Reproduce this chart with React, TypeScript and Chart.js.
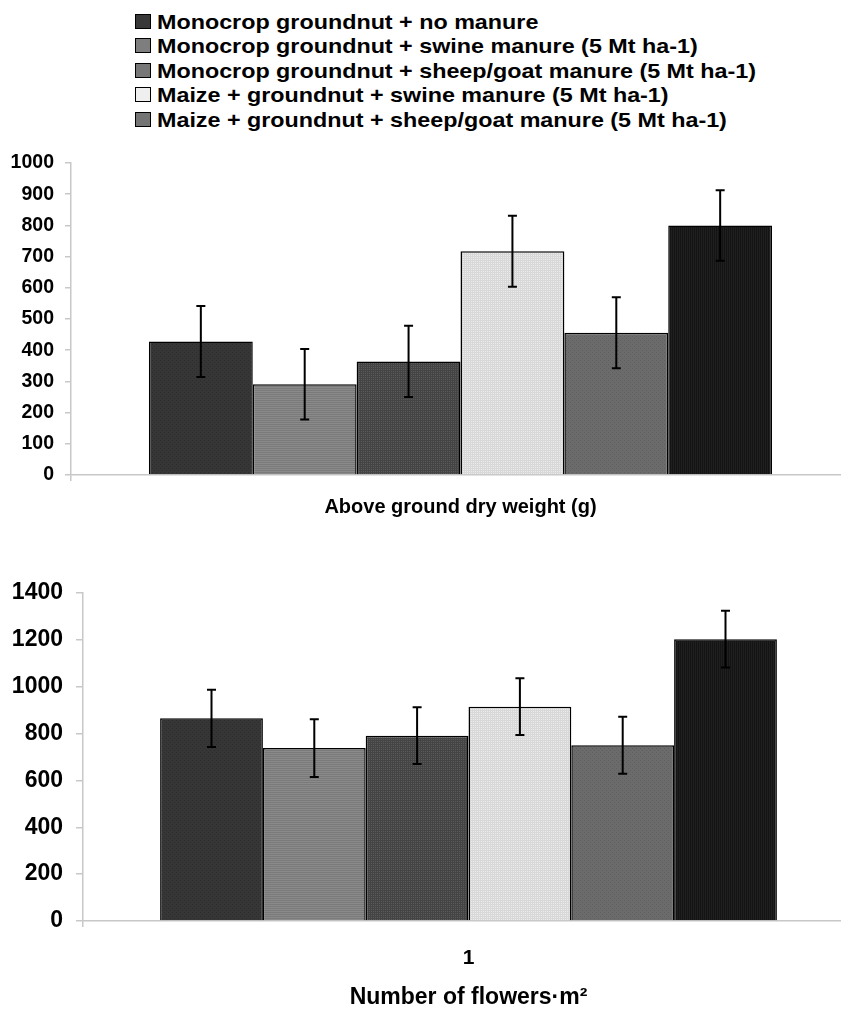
import React, { useEffect, useRef } from "react";
import { Chart, registerables } from "chart.js";

Chart.register(...registerables);

const seriesLabels = [
  "Monocrop groundnut + no manure",
  "Monocrop groundnut + swine manure (5 Mt ha-1)",
  "Monocrop groundnut + sheep/goat manure (5 Mt ha-1)",
  "Maize + groundnut + swine manure (5 Mt ha-1)",
  "Maize + groundnut + sheep/goat manure (5 Mt ha-1)",
  "Series 6",
];
const legendCount = 5;

const topCategories = [""];
const topTitle = "Above ground dry weight (g)";
const dryWeight = [428, 291, 364, 717, 456, 800];
const dryWeightErr = [114, 113, 114, 114, 114, 113];

const bottomCategories = ["1"];
const bottomTitle = "Number of flowers·m²";
const flowers = [865, 738, 791, 915, 750, 1203];
const flowersErr = [122, 123, 121, 121, 122, 121];

const baseColors = ["#363636", "#8a8a8a", "#5a5a5a", "#ebebeb", "#6b6b6b", "#1f1f1f"];
const inkColors = ["#2c2c2c", "#7a7a7a", "#444444", "#d8d8d8", "#5e5e5e", "#141414"];
const legendColors = ["#383838", "#7e7e7e", "#777777", "#efefef", "#747474"];
const patternKinds = ["dots", "hlines", "grid", "grid", "dots", "vlines"];

const FONT = "'Liberation Sans', Arial, Helvetica, sans-serif";

function makePattern(bg: string, fg: string, kind: string) {
  const c = document.createElement("canvas");
  c.width = 4;
  c.height = 4;
  const ctx = c.getContext("2d")!;
  ctx.fillStyle = bg;
  ctx.fillRect(0, 0, 4, 4);
  ctx.fillStyle = fg;
  if (kind === "hlines") {
    ctx.fillRect(0, 0, 4, 1);
    ctx.fillRect(0, 2, 4, 1);
  } else if (kind === "vlines") {
    ctx.fillRect(0, 0, 1, 4);
    ctx.fillRect(2, 0, 1, 4);
  } else if (kind === "grid") {
    ctx.fillRect(0, 0, 4, 1);
    ctx.fillRect(0, 0, 1, 4);
    ctx.fillRect(0, 2, 4, 1);
    ctx.fillRect(2, 0, 1, 4);
  } else {
    ctx.fillRect(0, 0, 1, 1);
    ctx.fillRect(2, 2, 1, 1);
  }
  const p = ctx.createPattern(c, "repeat");
  return p || bg;
}

const errorBarPlugin = {
  id: "errorBars",
  afterDatasetsDraw(chart: any) {
    const ctx = chart.ctx;
    const yScale = chart.scales.y;
    chart.data.datasets.forEach((ds: any, i: number) => {
      const meta = chart.getDatasetMeta(i);
      meta.data.forEach((bar: any, j: number) => {
        const v = ds.data[j];
        const e = ds.errors[j];
        const x = bar.x;
        const yTop = yScale.getPixelForValue(v + e);
        const yBot = yScale.getPixelForValue(v - e);
        ctx.save();
        ctx.strokeStyle = "#000";
        ctx.lineWidth = 2;
        ctx.beginPath();
        ctx.moveTo(x, yTop);
        ctx.lineTo(x, yBot);
        ctx.moveTo(x - 4.5, yTop);
        ctx.lineTo(x + 4.5, yTop);
        ctx.moveTo(x - 4.5, yBot);
        ctx.lineTo(x + 4.5, yBot);
        ctx.stroke();
        ctx.restore();
      });
    });
  },
};

type PanelProps = {
  labels: string[];
  values: number[];
  errors: number[];
  max: number;
  step: number;
  yFont: number;
  yWidth: number;
  yTick: number;
  yPad: number;
  showXTicks: boolean;
  xTickFont: number;
  xTickPad: number;
  title: string;
  titleFont: number;
  xHeight: number;
  padTop: number;
  padRight: number;
  padBottom: number;
  width: number;
  height: number;
  top: number;
};

function Panel(p: PanelProps) {
  const ref = useRef<HTMLCanvasElement>(null);
  useEffect(() => {
    const canvas = ref.current!;
    const datasets = p.values.map((v, i) => ({
      label: seriesLabels[i],
      data: [v],
      errors: [p.errors[i]],
      backgroundColor: makePattern(baseColors[i], inkColors[i], patternKinds[i]) as any,
      borderColor: "#000",
      borderWidth: 1.5,
      categoryPercentage: 0.8,
      barPercentage: 1.0,
    }));
    const chart = new Chart(canvas, {
      type: "bar",
      data: { labels: p.labels, datasets: datasets as any },
      plugins: [errorBarPlugin],
      options: {
        animation: false,
        responsive: false,
        devicePixelRatio: 1,
        layout: { padding: { top: p.padTop, right: p.padRight, bottom: p.padBottom, left: 0 } },
        plugins: { legend: { display: false }, tooltip: { enabled: false } },
        scales: {
          x: {
            grid: { display: true, drawOnChartArea: false, tickLength: 6, color: "#c8c8c8", lineWidth: 1.5 },
            border: { color: "#c8c8c8", width: 1.5 },
            ticks: {
              display: p.showXTicks,
              color: "#000",
              padding: p.xTickPad,
              font: { family: FONT, size: p.xTickFont, weight: "bold" },
            },
            title: {
              display: true,
              text: p.title,
              color: "#000",
              padding: 0,
              font: { family: FONT, size: p.titleFont, weight: "bold" },
            },
            afterFit: (s: any) => {
              s.height = p.xHeight;
            },
          },
          y: {
            min: 0,
            max: p.max,
            ticks: {
              stepSize: p.step,
              color: "#000",
              padding: p.yPad,
              font: { family: FONT, size: p.yFont, weight: "bold" },
              callback: (v: any) => String(v),
            },
            grid: { display: true, drawOnChartArea: false, tickLength: p.yTick, color: "#c8c8c8", lineWidth: 1.5 },
            border: { color: "#c8c8c8", width: 1.5 },
            afterFit: (s: any) => {
              s.width = p.yWidth;
            },
          },
        },
      } as any,
    });
    return () => chart.destroy();
  }, []);
  return (
    <canvas
      ref={ref}
      width={p.width}
      height={p.height}
      style={{ position: "absolute", left: 0, top: p.top, width: p.width, height: p.height }}
    />
  );
}

export default function App() {
  return (
    <div
      style={{
        position: "absolute",
        left: 0,
        top: 0,
        width: 841,
        height: 1012,
        overflow: "hidden",
        background: "#fff",
        fontFamily: FONT,
      }}
    >
      {seriesLabels.slice(0, legendCount).map((lab, i) => (
        <div key={i}>
          <div
            style={{
              position: "absolute",
              left: 135,
              top: 13.5 + 24.6 * i,
              width: 16,
              height: 15,
              boxSizing: "border-box",
              border: "1px solid #000",
              background: legendColors[i],
            }}
          />
          <div
            style={{
              position: "absolute",
              left: 156.5,
              top: 8.5 + 24.6 * i,
              fontSize: 21,
              lineHeight: "25px",
              fontWeight: "bold",
              color: "#000",
              whiteSpace: "nowrap",
              transform: "scaleX(1.11)",
              transformOrigin: "0 0",
            }}
          >
            {lab}
          </div>
        </div>
      ))}
      <Panel
        labels={topCategories}
        values={dryWeight}
        errors={dryWeightErr}
        max={1000}
        step={100}
        yFont={19.5}
        yWidth={71}
        yTick={6}
        yPad={11}
        showXTicks={false}
        xTickFont={19}
        xTickPad={3}
        title={topTitle}
        titleFont={20}
        xHeight={44}
        padTop={23}
        padRight={10}
        padBottom={0}
        width={860}
        height={379}
        top={140}
      />
      <Panel
        labels={bottomCategories}
        values={flowers}
        errors={flowersErr}
        max={1400}
        step={200}
        yFont={23}
        yWidth={83}
        yTick={7}
        yPad={13}
        showXTicks={true}
        xTickFont={21}
        xTickPad={19}
        title={bottomTitle}
        titleFont={23}
        xHeight={90}
        padTop={33}
        padRight={13}
        padBottom={1}
        width={867}
        height={452}
        top={560}
      />
    </div>
  );
}
